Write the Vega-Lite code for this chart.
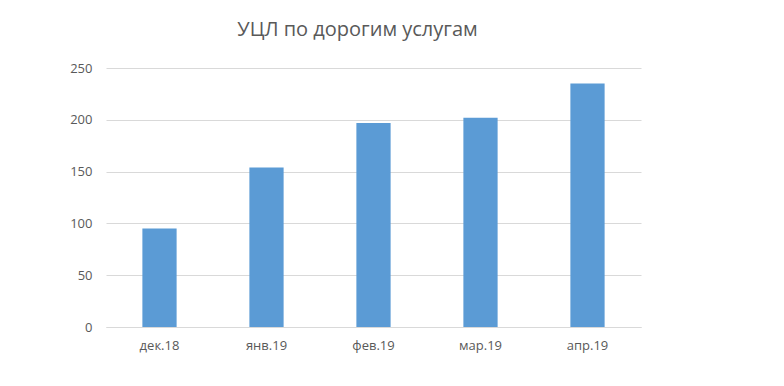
{
  "$schema": "https://vega.github.io/schema/vega-lite/v6.json",
  "width": 535,
  "height": 259,
  "autosize": {"type": "none"},
  "padding": {"left": 106, "top": 68, "right": 143, "bottom": 59},
  "background": "#ffffff",
  "title": {
    "text": "УЦЛ по дорогим услугам",
    "anchor": "middle",
    "dx": -16,
    "offset": 22,
    "fontSize": 20,
    "font": "Open Sans",
    "fontWeight": "normal",
    "color": "#595959"
  },
  "data": {
    "values": [
      {"month": "дек.18", "value": 95},
      {"month": "янв.19", "value": 154},
      {"month": "фев.19", "value": 197},
      {"month": "мар.19", "value": 202},
      {"month": "апр.19", "value": 235}
    ]
  },
  "mark": {"type": "bar", "color": "#5b9bd5"},
  "encoding": {
    "x": {
      "field": "month",
      "type": "nominal",
      "sort": null,
      "title": null,
      "scale": {"paddingInner": 0.68, "paddingOuter": 0.34},
      "axis": {
        "labelAngle": 0,
        "labelFont": "Open Sans",
        "labelFontSize": 13,
        "labelColor": "#595959",
        "labelPadding": 12,
        "ticks": false,
        "domainColor": "#d9d9d9",
        "grid": false
      }
    },
    "y": {
      "field": "value",
      "type": "quantitative",
      "title": null,
      "scale": {"domain": [0, 250]},
      "axis": {
        "values": [0, 50, 100, 150, 200, 250],
        "labelFont": "Open Sans",
        "labelFontSize": 13,
        "labelColor": "#595959",
        "labelPadding": 14,
        "ticks": false,
        "domain": false,
        "gridColor": "#d9d9d9"
      }
    }
  },
  "config": {"view": {"stroke": null}}
}
